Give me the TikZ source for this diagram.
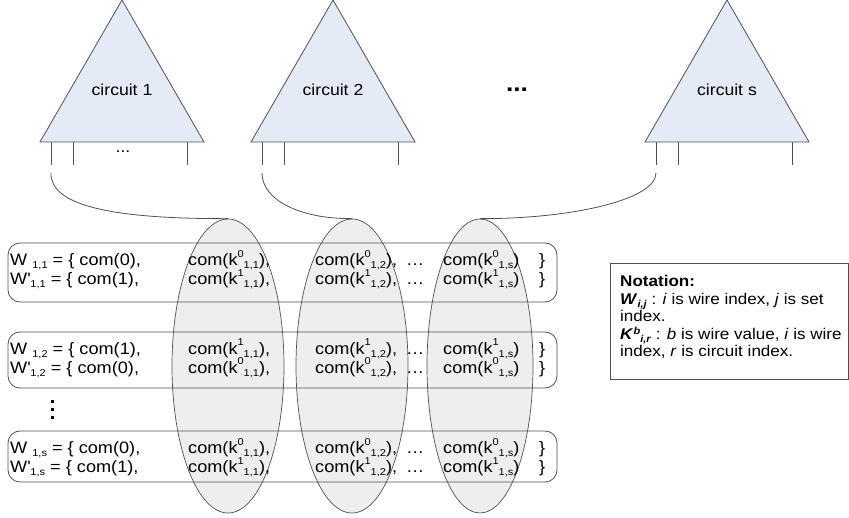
\documentclass[tikz,border=0pt]{standalone}
\usepackage{fontspec}
\setmainfont{Liberation Sans}[FakeStretch=1.1]
\usetikzlibrary{shapes.geometric}

\definecolor{triblue}{RGB}{228,234,246}
\definecolor{baggray}{RGB}{238,238,238}
\definecolor{edgegray}{RGB}{80,80,80}

\newcommand{\upidx}[2][8.5pt]{\raisebox{#1}[0pt][0pt]{\fontsize{10}{10}\selectfont #2}}
\newcommand{\dnidx}[1]{\raisebox{-3pt}[0pt][0pt]{\fontsize{10}{10}\selectfont #1}}

\begin{document}
\begin{tikzpicture}[x=1pt, y=-1pt,
  gate/.style={draw=edgegray, fill=triblue, line width=0.8pt},
  wire/.style={draw=edgegray, line width=0.8pt},
  bag/.style={ellipse, draw=edgegray, fill=baggray, line width=0.7pt, inner sep=0pt,
    minimum width=112, minimum height=294},
  rowbox/.style={draw=edgegray, line width=0.8pt, rounded corners=12pt},
  txt/.style={anchor=base west, inner sep=0pt, font=\fontsize{16.5}{19}\selectfont},
  note/.style={anchor=base west, inner sep=0pt, font=\fontsize{15.5}{17.5}\selectfont},
  lbl/.style={inner sep=0pt, font=\fontsize{16}{19}\selectfont},
  link/.style={draw=edgegray, line width=0.8pt}]

  % Fix the page to the size of the drawing
  \useasboundingbox (0,0) rectangle (849,518);

  % Draw the circuits with their wires
  \foreach \n/\x in {1/40,2/251,s/645} {
    \draw[gate] (\x,142) -- ++(82,-142) -- ++(82,142) -- cycle;
    \node[lbl] (c\n) at (\x+82,90) {circuit \n};
    \foreach \d in {11,33,147} {
      \draw[wire] (\x+\d,142) -- ++(0,23);
    }
    \coordinate (p\n) at (\x+11,173);
  }

  % Dots under circuit 1 and between the circuits
  \node[lbl] (cdots) at (123,152) {...};
  \node[lbl, font=\bfseries\fontsize{24}{24}\selectfont] (cmore) at (517,90) {...};

  % Sets of commitments, one per circuit
  \node[bag] (e1) at (228,366) {};
  \node[bag] (e2) at (352,366) {};
  \node[bag, minimum width=106] (e3) at (480,366) {};

  % Link the first wire of each circuit to its set
  \draw[link] (p1) .. controls (50,205) and (110,219) .. (e1.north);
  \draw[link] (p2) .. controls (262,200) and (300,219) .. (e2.north);
  \draw[link] (ps) .. controls (656,200) and (570,219) .. (e3.north);

  % Boxes round each pair of wire sets
  \draw[rowbox] (8,243) rectangle (557,302);
  \draw[rowbox] (8,332) rectangle (557,388);
  \draw[rowbox] (8,431) rectangle (557,482);

  % Vertical dots before the last pair
  \foreach \y in {400,408,416} {
    \fill (50.5,\y) rectangle ++(3.5,3.5);
  }

  % Contents of each pair of wire sets
  \foreach \r/\y/\a/\b in {1/266/0/1,2/354.5/1/0,s/453.5/0/1} {
    \node[txt] (wa\r) at (10,\y) {W \dnidx{1,\r} = \{ com(\a),};
    \node[txt] (wb\r) at (188,\y) {com(k\upidx{\a}\dnidx{1,1}),};
    \node[txt] (wc\r) at (315,\y) {com(k\upidx{\a}\dnidx{1,2}),};
    \node[txt] (wd\r) at (406,\y) {…};
    \node[txt] (we\r) at (443,\y) {com(k\upidx{\a}\dnidx{1,s})};
    \node[txt] (wf\r) at (539,\y) {\}};
    \node[txt] (va\r) at (10,\y+19) {W\textquotesingle\dnidx{1,\r} = \{ com(\b),};
    \node[txt] (vb\r) at (188,\y+19) {com(k\upidx{\b}\dnidx{1,1}),};
    \node[txt] (vc\r) at (315,\y+19) {com(k\upidx{\b}\dnidx{1,2}),};
    \node[txt] (vd\r) at (406,\y+19) {…};
    \node[txt] (ve\r) at (443,\y+19) {com(k\upidx{\b}\dnidx{1,s})};
    \node[txt] (vf\r) at (539,\y+19) {\}};
  }

  % Notation box
  \node[draw=edgegray, line width=0.8pt, inner sep=0pt, anchor=north west,
    minimum width=238, minimum height=116] (notebox) at (610,263) {};
  \node[note] (nt1) at (620,287) {\textbf{Notation:}};
  \node[note] (nt2) at (620,304.5)
    {\textbf{\textit{W}}\dnidx{\textbf{\textit{i,j}}} : \textit{i} is wire index, \textit{j} is set};
  \node[note] (nt3) at (620,322) {index.};
  \node[note] (nt4) at (620,339.5)
    {\textbf{\textit{K}}\upidx[4.5pt]{\textbf{\textit{b}}}\dnidx{\textbf{\textit{i,r}}} : \textit{b} is wire value, \textit{i} is wire};
  \node[note] (nt5) at (620,357) {index, \textit{r} is circuit index.};

\end{tikzpicture}
\end{document}
